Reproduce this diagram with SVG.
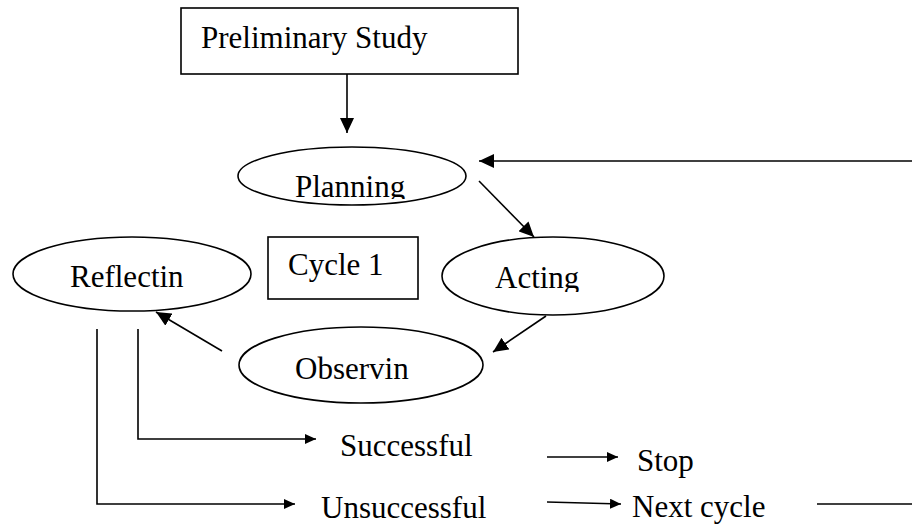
<svg xmlns="http://www.w3.org/2000/svg" width="912" height="525" viewBox="0 0 912 525">
<style>
.shape{fill:none;stroke:#000;stroke-width:1.6}
.t{font-family:"Liberation Serif","Times New Roman",serif;font-size:31px;fill:#000}
.c{fill:none;stroke:#000;stroke-width:1.6}
</style>
<defs>
<marker id="ah" markerUnits="userSpaceOnUse" markerWidth="16" markerHeight="14" refX="15" refY="7" orient="auto"><path d="M0,0 L15,7 L0,14 z" fill="#000"/></marker>
<marker id="as" markerUnits="userSpaceOnUse" markerWidth="12" markerHeight="10" refX="11" refY="5" orient="auto"><path d="M0,0 L11,5 L0,10 z" fill="#000"/></marker>
<clipPath id="clipP"><rect x="0" y="0" width="912" height="199"/></clipPath>
<clipPath id="clipA"><rect x="0" y="0" width="912" height="292"/></clipPath>
</defs>
<rect width="912" height="525" fill="#fff"/>
<g id="preliminary"><rect class="shape" x="181" y="8" width="337" height="66"/><text class="t" x="201" y="48">Preliminary Study</text></g>
<g id="planning"><ellipse class="shape" cx="352" cy="176" rx="114" ry="29"/><text class="t" x="295" y="197" clip-path="url(#clipP)">Planning</text></g>
<g id="cycle1"><rect class="shape" x="268" y="237" width="150" height="62"/><text class="t" x="288" y="275">Cycle 1</text></g>
<g id="acting"><ellipse class="shape" cx="553" cy="276" rx="111" ry="39"/><text class="t" x="495" y="288" clip-path="url(#clipA)">Acting</text></g>
<g id="reflecting"><ellipse class="shape" cx="132" cy="274" rx="119" ry="37"/><text class="t" x="70" y="287">Reflectin</text></g>
<g id="observing"><ellipse class="shape" cx="361" cy="365" rx="122" ry="38"/><text class="t" x="295" y="379">Observin</text></g>
<g id="successful"><text class="t" x="340" y="456">Successful</text></g>
<g id="unsuccessful"><text class="t" x="321" y="518">Unsuccessful</text></g>
<g id="stop"><text class="t" x="637" y="471">Stop</text></g>
<g id="nextcycle"><text class="t" x="632" y="517">Next cycle</text></g>
<g id="connectors">
<line class="c" x1="347" y1="74" x2="347" y2="133" marker-end="url(#ah)"/>
<line class="c" x1="912" y1="161" x2="479" y2="161" marker-end="url(#ah)"/>
<line class="c" x1="479" y1="181" x2="534" y2="237" marker-end="url(#ah)"/>
<line class="c" x1="546" y1="316" x2="493" y2="352" marker-end="url(#ah)"/>
<line class="c" x1="222" y1="351" x2="156" y2="312" marker-end="url(#ah)"/>
<polyline class="c" points="138,329 138,439 316,439" marker-end="url(#as)"/>
<polyline class="c" points="97,329 97,504 295,504" marker-end="url(#as)"/>
<line class="c" x1="547" y1="457" x2="618" y2="457" marker-end="url(#as)"/>
<line class="c" x1="547" y1="502" x2="621" y2="504" marker-end="url(#as)"/>
<line class="c" x1="817" y1="504" x2="912" y2="504"/>
</g>
</svg>
